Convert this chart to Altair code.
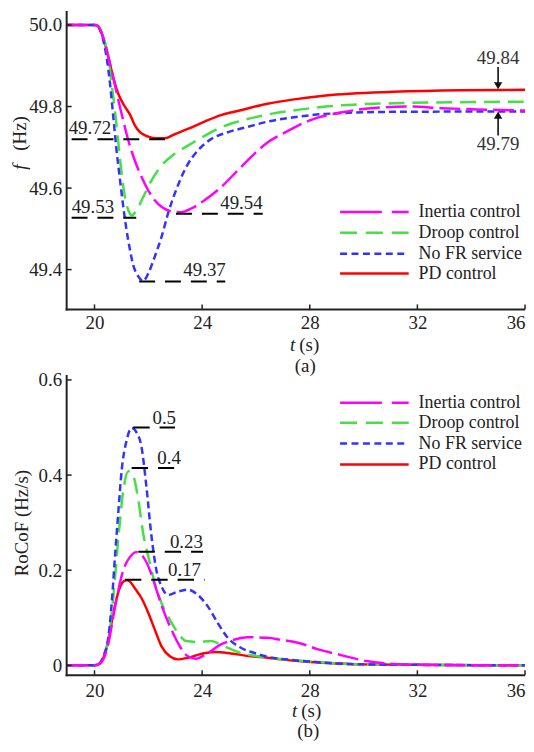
import altair as alt
import pandas as pd

FONT = "Liberation Serif, DejaVu Serif, Times New Roman, serif"
TXT = "#222222"

SERIES = ["Inertia control", "Droop control", "No FR service", "PD control"]
COLORS = ["#ff00ff", "#44e044", "#3333ff", "#ff0000"]
LINE_DASH = [[21, 6], [16, 8], [7, 4], None]
LEGEND_DASH = [[42, 10, 17, 10], [17, 9], [7, 4.5], None]
DRAW_ORDER = [3, 1, 2, 0]

XTICKS = [20, 24, 28, 32, 36]

# ---------------- (a) frequency ----------------
FA_T = {
    "PD control": [18.965, 20.0, 20.12, 20.33, 20.52, 20.70, 20.89, 21.13, 21.32, 21.50, 21.69, 22.0, 22.3, 22.61,
                   22.98, 23.47, 24.09, 24.70, 25.32, 26.43, 27.35, 28.6, 31.1, 33.6, 36.0],
    "Droop control": [18.965, 20.0, 20.12, 20.33, 20.52, 20.64, 20.76, 20.89, 21.01, 21.13, 21.26, 21.38, 21.56,
                      21.81, 22.12, 22.49, 22.98, 23.47, 24.09, 24.70, 25.44, 26.18, 27.35, 28.6, 31.1, 36.0],
    "No FR service": [18.965, 20.0, 20.1, 20.27, 20.45, 20.58, 20.70, 20.82, 20.95, 21.07, 21.19, 21.32, 21.44,
                      21.63, 21.81, 22.0, 22.24, 22.49, 22.73, 22.98, 23.23, 23.47, 23.84, 24.33, 24.95, 25.69,
                      26.43, 27.35, 28.6, 31.1, 36.0],
    "Inertia control": [18.965, 20.0, 20.12, 20.33, 20.52, 20.70, 20.89, 21.07, 21.26, 21.50, 21.75, 22.0, 22.24,
                        22.49, 22.80, 23.23, 23.60, 24.09, 24.70, 25.32, 25.94, 26.43, 26.9, 27.35, 28.0, 29.2,
                        30.5, 31.7, 32.9, 34.2, 36.0],
}
FA_V = {
    "PD control": [50.0, 50.0, 49.998, 49.968, 49.92, 49.87, 49.83, 49.80, 49.78, 49.754, 49.737, 49.726, 49.722,
                   49.722, 49.732, 49.745, 49.763, 49.779, 49.789, 49.807, 49.817, 49.827, 49.836, 49.84, 49.841],
    "Droop control": [50.0, 50.0, 49.998, 49.968, 49.92, 49.854, 49.79, 49.708, 49.635, 49.578, 49.545, 49.533,
                      49.545, 49.578, 49.619, 49.655, 49.684, 49.704, 49.728, 49.749, 49.765, 49.777, 49.79, 49.80,
                      49.808, 49.812],
    "No FR service": [50.0, 50.0, 49.998, 49.976, 49.92, 49.854, 49.773, 49.692, 49.619, 49.554, 49.497, 49.448,
                      49.411, 49.383, 49.372, 49.391, 49.432, 49.48, 49.537, 49.586, 49.627, 49.659, 49.692, 49.72,
                      49.737, 49.75, 49.763, 49.773, 49.782, 49.787, 49.788],
    "Inertia control": [50.0, 50.0, 49.998, 49.968, 49.92, 49.87, 49.814, 49.765, 49.716, 49.667, 49.627, 49.594,
                        49.57, 49.554, 49.544, 49.541, 49.55, 49.57, 49.602, 49.643, 49.684, 49.712, 49.73, 49.746,
                        49.766, 49.786, 49.797, 49.80, 49.796, 49.793, 49.79],
}

# ---------------- (b) RoCoF ----------------
RB_T = {
    "PD control": [18.965, 20.0, 20.15, 20.33, 20.52, 20.70, 20.89, 21.07, 21.2, 21.32, 21.50, 21.75, 22.0, 22.24,
                   22.49, 22.80, 23.10, 23.47, 23.97, 24.46, 25.07, 25.81, 26.43, 27.0, 28.0, 29.0, 30.0, 32.0, 36.0],
    "Droop control": [18.965, 20.0, 20.15, 20.33, 20.52, 20.70, 20.89, 21.07, 21.26, 21.44, 21.63, 21.81, 22.0,
                      22.24, 22.49, 22.80, 23.10, 23.41, 23.84, 24.33, 24.82, 25.44, 26.18, 27.0, 28.0, 29.0, 30.0,
                      32.0, 36.0],
    "No FR service": [18.965, 20.0, 20.15, 20.33, 20.52, 20.64, 20.76, 20.89, 21.01, 21.19, 21.38, 21.56, 21.75,
                      21.93, 22.12, 22.30, 22.49, 22.73, 23.10, 23.47, 23.84, 24.21, 24.58, 24.95, 25.44, 25.94,
                      26.43, 27.2, 28.0, 29.0, 30.0, 32.0, 36.0],
    "Inertia control": [18.965, 20.0, 20.15, 20.33, 20.52, 20.70, 20.89, 21.07, 21.32, 21.56, 21.81, 22.06, 22.30,
                        22.55, 22.86, 23.17, 23.47, 23.78, 24.21, 24.70, 25.20, 25.69, 26.43, 26.9, 27.6, 28.35,
                        29.2, 30.1, 31.1, 32.0, 36.0],
}
RB_V = {
    "PD control": [0.0, 0.0, 0.002, 0.016, 0.054, 0.11, 0.155, 0.176, 0.179, 0.176, 0.162, 0.141, 0.11, 0.075,
                   0.04, 0.019, 0.0125, 0.016, 0.024, 0.028, 0.025, 0.019, 0.016, 0.012, 0.007, 0.004, 0.002,
                   0.001, 0.0],
    "Droop control": [0.0, 0.0, 0.002, 0.016, 0.054, 0.145, 0.27, 0.368, 0.408, 0.398, 0.347, 0.277, 0.228, 0.173,
                      0.131, 0.096, 0.068, 0.051, 0.049, 0.051, 0.040, 0.026, 0.018, 0.013, 0.008, 0.004, 0.002,
                      0.001, 0.0],
    "No FR service": [0.0, 0.0, 0.002, 0.019, 0.061, 0.131, 0.228, 0.326, 0.41, 0.472, 0.499, 0.49, 0.458, 0.375,
                      0.27, 0.20, 0.166, 0.148, 0.155, 0.159, 0.148, 0.124, 0.089, 0.058, 0.037, 0.026, 0.018,
                      0.012, 0.008, 0.004, 0.002, 0.001, 0.0],
    "Inertia control": [0.0, 0.0, 0.002, 0.013, 0.047, 0.103, 0.159, 0.20, 0.228, 0.238, 0.228, 0.20, 0.159,
                        0.117, 0.075, 0.040, 0.019, 0.014, 0.026, 0.044, 0.054, 0.059, 0.058, 0.054, 0.047, 0.033,
                        0.021, 0.009, 0.003, 0.001, 0.0],
}

# annotations (a)
ANN_A_T1 = [19.15, 19.15, 23.03, 21.66]
ANN_A_T2 = [22.62, 21.55, 26.25, 24.86]
ANN_A_V = [49.72, 49.527, 49.537, 49.371]
ANN_A_LEFT_LABEL = ["49.72", "49.53"]
ANN_A_LEFT_T = [19.04, 19.15]
ANN_A_LEFT_V = [49.72, 49.527]
ANN_A_RIGHT_LABEL = ["49.54", "49.37"]
ANN_A_RIGHT_T = [26.25, 24.88]
ANN_A_RIGHT_V = [49.537, 49.371]
ARROW_T = 35.0
ARROW_LABEL = ["49.84", "49.79"]
ARROW_LABEL_V = [49.918, 49.707]
ARROW_FROM = [49.897, 49.729]
ARROW_TO = [49.858, 49.772]
ARROW_HEAD = [49.851, 49.779]

# annotations (b)
ANN_B_T1 = [21.44, 21.38, 21.63, 21.13]
ANN_B_T2 = [22.99, 22.96, 24.03, 24.09]
ANN_B_V = [0.5, 0.415, 0.239, 0.18]
ANN_B_LABEL = ["0.5", "0.4", "0.23", "0.17"]
ANN_B_LABEL_T = [23.03, 23.21, 24.03, 23.96]

W = 461
HA = 300
HB = 302
GAP = 66

XS = alt.Scale(domain=[18.965, 36.0], nice=False, zero=False)


def xaxis(pad):
    return alt.Axis(values=XTICKS, format="d", title=None, grid=False, ticks=False, domain=False,
                    labelFont=FONT, labelFontSize=19, labelColor=TXT, labelPadding=pad,
                    labelFlush=True, labelOverlap=False)


def yaxis(vals, expr):
    return alt.Axis(values=vals, labelExpr=expr, title=None, grid=False, ticks=False, domain=False,
                    labelFont=FONT, labelFontSize=19, labelColor=TXT, labelPadding=5,
                    labelFlush=False, labelOverlap=False)


def txt(label, x, y, size=19, italic=False, align="center", angle=0, color=TXT, baseline="middle"):
    kw = dict(font=FONT, fontSize=size, color=color, align=align, baseline=baseline)
    if italic:
        kw["fontStyle"] = "italic"
    if angle:
        kw["angle"] = angle
    return alt.Chart(pd.DataFrame({"label": [label]})).mark_text(**kw).encode(
        x=alt.value(x), y=alt.value(y), text="label:N")


def panel(T, V, yscale, yticks, yexpr, H, legend_y, xpad):
    X = alt.X("t:Q", scale=XS, axis=xaxis(xpad))
    Y = alt.Y("v:Q", scale=yscale, axis=yaxis(yticks, yexpr))
    layers = []
    for i in DRAW_ORDER:
        s = SERIES[i]
        df = pd.DataFrame({"t": T[s], "v": V[s]})
        kw = dict(color=COLORS[i], strokeWidth=2.5, interpolate="monotone", clip=True)
        if LINE_DASH[i]:
            kw["strokeDash"] = LINE_DASH[i]
        layers.append(alt.Chart(df).mark_line(**kw).encode(x=X, y=Y))
    one = pd.DataFrame({"a": [0]})
    # axis lines
    layers.append(alt.Chart(one).mark_rule(color=TXT, strokeWidth=2).encode(
        x=alt.value(0), y=alt.value(0), y2=alt.value(H + 1)))
    layers.append(alt.Chart(one).mark_rule(color=TXT, strokeWidth=2).encode(
        x=alt.value(-1), x2=alt.value(W), y=alt.value(H)))
    # inward ticks
    layers.append(alt.Chart(pd.DataFrame({"t": XTICKS})).mark_rule(color=TXT, strokeWidth=1.5).encode(
        x=X, y=alt.value(H), y2=alt.value(H - 5)))
    layers.append(alt.Chart(pd.DataFrame({"v": yticks})).mark_rule(color=TXT, strokeWidth=1.5).encode(
        y=Y, x=alt.value(0), x2=alt.value(5)))
    # legend
    for k in range(4):
        kw = dict(color=COLORS[k], strokeWidth=2.5)
        if LEGEND_DASH[k]:
            kw["strokeDash"] = LEGEND_DASH[k]
        layers.append(alt.Chart(one).mark_rule(**kw).encode(
            x=alt.value(275), x2=alt.value(344), y=alt.value(legend_y[k])))
        layers.append(txt(SERIES[k], 354, legend_y[k], size=18, align="left"))
    return layers, X, Y


# ---- panel (a): plot top at page y=8, 50.0 at y=22, 410 px per Hz
YSA = alt.Scale(domain=[49.3024, 50.0341], nice=False, zero=False)
la, XA, YA = panel(FA_T, FA_V, YSA, [49.4, 49.6, 49.8, 50.0], "format(datum.value, '.1f')", HA,
                   [202, 223, 244, 264], 4)
ann_a = pd.DataFrame({"t": ANN_A_T1, "t2": ANN_A_T2, "v": ANN_A_V})
la.append(alt.Chart(ann_a).mark_rule(color="black", strokeWidth=2, strokeDash=[16, 10]).encode(
    x=XA, x2="t2:Q", y=YA))
la.append(alt.Chart(pd.DataFrame({"t": ANN_A_LEFT_T, "v": ANN_A_LEFT_V, "label": ANN_A_LEFT_LABEL})).mark_text(
    font=FONT, fontSize=19, color=TXT, align="left", baseline="alphabetic", dy=-5).encode(x=XA, y=YA, text="label:N"))
la.append(alt.Chart(pd.DataFrame({"t": ANN_A_RIGHT_T, "v": ANN_A_RIGHT_V, "label": ANN_A_RIGHT_LABEL})).mark_text(
    font=FONT, fontSize=19, color=TXT, align="right", baseline="alphabetic", dy=-5).encode(x=XA, y=YA, text="label:N"))
arr = pd.DataFrame({"t": [ARROW_T, ARROW_T], "v": ARROW_FROM, "v2": ARROW_TO})
la.append(alt.Chart(arr).mark_rule(color="#111111", strokeWidth=1.6).encode(x=XA, y=YA, y2="v2:Q"))
la.append(alt.Chart(pd.DataFrame({"t": [ARROW_T], "v": [ARROW_HEAD[0]]})).mark_point(
    shape="triangle-down", filled=True, size=70, color="#111111", opacity=1).encode(x=XA, y=YA))
la.append(alt.Chart(pd.DataFrame({"t": [ARROW_T], "v": [ARROW_HEAD[1]]})).mark_point(
    shape="triangle-up", filled=True, size=70, color="#111111", opacity=1).encode(x=XA, y=YA))
la.append(alt.Chart(pd.DataFrame({"t": [ARROW_T, ARROW_T], "v": ARROW_LABEL_V, "label": ARROW_LABEL})).mark_text(
    font=FONT, fontSize=19, color="#333333", align="center", baseline="middle").encode(x=XA, y=YA, text="label:N"))
la.append(txt("f", -47, 157, italic=True, angle=270))
la.append(txt("(Hz)", -47, 123, angle=270))
la.append(txt("t", 230, HA + 36, italic=True, align="right"))
la.append(txt("(s)", 234, HA + 36, align="left"))
la.append(txt("(a)", 240, HA + 57))
top = alt.layer(*la).properties(width=W, height=HA)

# ---- panel (b): plot top at page y=374, 0 at y=666, 478.5 px per Hz/s
YSB = alt.Scale(domain=[-0.0209, 0.6104], nice=False, zero=False)
lb, XB, YB = panel(RB_T, RB_V, YSB, [0.0, 0.2, 0.4, 0.6],
                   "datum.value == 0 ? '0' : format(datum.value, '.1f')", HB, [28, 48, 69, 90], 6)
ann_b = pd.DataFrame({"t": ANN_B_T1, "t2": ANN_B_T2, "v": ANN_B_V})
lb.append(alt.Chart(ann_b).mark_rule(color="black", strokeWidth=2, strokeDash=[16.5, 10]).encode(
    x=XB, x2="t2:Q", y=YB))
lb.append(alt.Chart(pd.DataFrame({"t": ANN_B_LABEL_T, "v": ANN_B_V, "label": ANN_B_LABEL})).mark_text(
    font=FONT, fontSize=19, color=TXT, align="right", baseline="alphabetic", dy=-4).encode(x=XB, y=YB, text="label:N"))
lb.append(txt("RoCoF (Hz/s)", -45, 149, angle=270))
lb.append(txt("t", 232, HB + 36, italic=True, align="right"))
lb.append(txt("(s)", 236, HB + 36, align="left"))
lb.append(txt("(b)", 243, HB + 56))
bottom = alt.layer(*lb).properties(width=W, height=HB)

chart = alt.vconcat(top, bottom, spacing=GAP, bounds="flush").properties(
    padding={"left": 3, "top": 0, "right": 0, "bottom": 0}
).configure_view(stroke=None)

chart.save("out.html", embed_options={"renderer": "svg", "actions": False})
